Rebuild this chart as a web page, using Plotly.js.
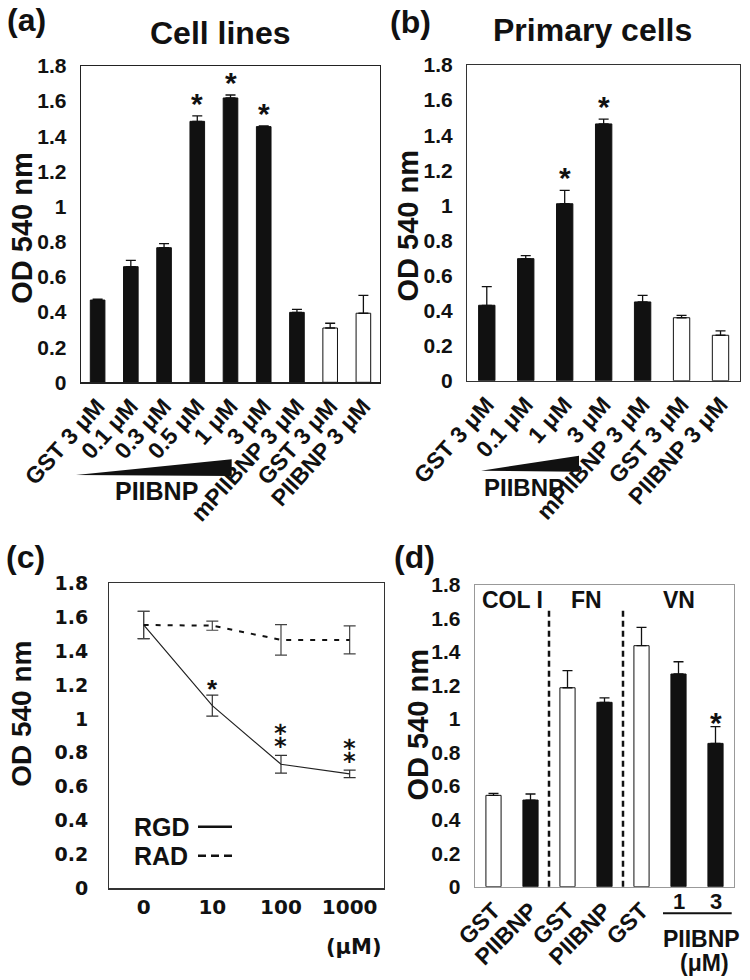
<!DOCTYPE html>
<html>
<head>
<meta charset="utf-8">
<script src="https://cdn.plot.ly/plotly-3.0.1.min.js"></script>
<style>html,body{margin:0;padding:0;background:#fff;}#chart{width:750px;height:980px;}</style>
</head>
<body>
<div id="chart"></div>
<script>
// ---------- DATA ----------
// (a) Cell lines
const aLabels = ["GST 3 μM","0.1 μM","0.3 μM","0.5 μM","1 μM","3 μM","mPIIBNP 3 μM","GST 3 μM","PIIBNP 3 μM"];
const aMean   = [0.468, 0.658, 0.766, 1.485, 1.618, 1.455, 0.398, 0.309, 0.393];
const aErr    = [0.005, 0.036, 0.023, 0.031, 0.017, 0.004, 0.017, 0.027, 0.102];
const aOpen   = [0, 0, 0, 0, 0, 0, 0, 1, 1];
const aStars  = [0, 0, 0, 1, 1, 1, 0, 0, 0];
// (b) Primary cells
const bLabels = ["GST 3 μM","0.1 μM","1 μM","3 μM","mPIIBNP 3 μM","GST 3 μM","PIIBNP 3 μM"];
const bMean   = [0.430, 0.696, 1.009, 1.464, 0.449, 0.359, 0.259];
const bErr    = [0.106, 0.017, 0.076, 0.027, 0.038, 0.013, 0.025];
const bOpen   = [0, 0, 0, 0, 0, 1, 1];
const bStars  = [0, 0, 1, 1, 0, 0, 0];
// (c) RGD / RAD peptides
const cDose   = ["0","10","100","1000"];
const rgdMean = [1.554, 1.078, 0.732, 0.675];
const rgdErr  = [0.081, 0.062, 0.052, 0.022];
const radMean = [1.554, 1.550, 1.466, 1.466];
const radErr  = [0.081, 0.027, 0.090, 0.083];
const cStars  = [0, 1, 2, 2];
// (d) Substrates
const dSubstrate = ["COL I","COL I","FN","FN","VN","VN","VN"];
const dLabels = ["GST","PIIBNP","GST","PIIBNP","GST","1","3"];
const dMean   = [0.545, 0.517, 1.187, 1.100, 1.438, 1.269, 0.855];
const dErr    = [0.012, 0.036, 0.102, 0.026, 0.109, 0.073, 0.100];
const dOpen   = [1, 0, 1, 0, 1, 0, 0];
const dStars  = [0, 0, 0, 0, 0, 0, 1];
const yTicks  = ["0","0.2","0.4","0.6","0.8","1","1.2","1.4","1.6","1.8"];

// ---------- HELPERS ----------
const F  = "Liberation Sans, Arial, sans-serif";
const FD = "DejaVu Sans, Verdana, sans-serif";
const INK = "#111";
const W = 750, H = 980;
const px = x => x / W;
const py = y => 1 - y / H;
const idx = arr => arr.map((_, i) => i);
const yTickVals = yTicks.map(Number);

const annotations = [];
const shapes = [];
function txt(text, x, y, size, extra) {
  annotations.push(Object.assign({
    text, x: px(x), y: py(y), xref: "paper", yref: "paper", showarrow: false,
    xanchor: "center", yanchor: "middle",
    font: {family: F, size, color: INK, weight: "bold"}
  }, extra || {}));
}
// one asterisk, or a vertically stacked pair (U+2051) for two
function stars(counts, means, errs, xref, yref, size, base) {
  counts.forEach((n, i) => {
    if (!n) return;
    annotations.push({
      text: n === 1 ? "*" : "\u2051", x: i, y: means[i] + errs[i], xref, yref, showarrow: false,
      xanchor: "center", yanchor: "bottom", yshift: n === 1 ? base : base + 9,
      font: {family: n === 1 ? F : FD, size: n === 1 ? size : size + 4, color: INK, weight: "bold"}
    });
  });
}
function barTrace(mean, err, open, width, xa, ya) {
  return {
    type: "bar", x: idx(mean), y: mean, width: width, xaxis: xa, yaxis: ya,
    marker: {color: open.map(o => o ? "#ffffff" : INK), line: {color: INK, width: 1}},
    error_y: {type: "data", symmetric: false, array: err, arrayminus: err.map(() => 0),
              color: INK, thickness: 1.3, width: 5},
    hoverinfo: "skip"
  };
}
function yAxis(domain, font, size, lineColor, standoff) {
  return {
    domain, range: [0, 1.8], tickvals: yTickVals, ticktext: yTicks,
    tickfont: {family: font, size, color: INK, weight: "bold"},
    showline: true, mirror: true, linecolor: lineColor, linewidth: 1.3,
    showgrid: false, zeroline: false, ticks: "", ticklabelstandoff: standoff, fixedrange: true
  };
}
function xAxis(domain, labels, angle, size, lineColor) {
  return {
    domain, range: [-0.5, labels.length - 0.5], tickvals: idx(labels), ticktext: labels,
    tickangle: angle, tickfont: {family: F, size, color: INK, weight: "bold"},
    showline: true, mirror: true, linecolor: lineColor, linewidth: 1.3,
    showgrid: false, zeroline: false, ticks: "", fixedrange: true
  };
}

// ---------- TRACES ----------
const traces = [
  barTrace(aMean, aErr, aOpen, 0.44, "x", "y"),
  barTrace(bMean, bErr, bOpen, 0.42, "x2", "y2"),
  {
    type: "scatter", mode: "lines", x: cDose, y: rgdMean, xaxis: "x3", yaxis: "y3",
    line: {color: "#222", width: 1.2},
    error_y: {type: "data", array: rgdErr, color: "#333", thickness: 1.2, width: 6},
    hoverinfo: "skip"
  },
  {
    type: "scatter", mode: "lines", x: cDose, y: radMean, xaxis: "x3", yaxis: "y3",
    line: {color: "#111", width: 2, dash: "5px,7px"},
    error_y: {type: "data", array: radErr, color: "#444", thickness: 1.2, width: 6},
    hoverinfo: "skip"
  },
  barTrace(dMean, dErr, dOpen, 0.41, "x4", "y4")
];

// ---------- AXES ----------
const xa = xAxis([px(81), px(380)], aLabels, -48, 23, "#222");
const ya = yAxis([py(382.3), py(66)], F, 21, "#222", 9);
const xb = xAxis([px(467.3), px(740)], bLabels, -48, 23, "#333");
const yb = yAxis([py(380.7), py(65)], F, 21, "#333", 9);
const xc = {
  domain: [px(109.3), px(384)], type: "category", range: [-0.5, cDose.length - 0.5],
  tickfont: {family: FD, size: 20, color: INK, weight: "bold"},
  showline: true, mirror: true, linecolor: "#333", linewidth: 1.3,
  showgrid: false, zeroline: false, ticks: "", ticklabelstandoff: 0, fixedrange: true
};
const yc = yAxis([py(888.3), py(583.3)], FD, 19, "#333", 16);
const xd = xAxis([px(475), px(734)], dLabels.map(l => /^\d/.test(l) ? "" : l), -45, 23, "#999");
const yd = yAxis([py(886.7), py(585)], F, 21, "#999", 9);
xa.anchor = "y"; xb.anchor = "y2"; xc.anchor = "y3"; xd.anchor = "y4";
ya.anchor = "x"; yb.anchor = "x2"; yc.anchor = "x3"; yd.anchor = "x4";

// ---------- ANNOTATIONS ----------
// panel letters and titles
txt("(a)", 26, 20, 32);
txt("Cell lines", 220, 33, 32);
txt("(b)", 410, 22, 32);
txt("Primary cells", 592, 30, 32);
txt("(c)", 25, 557, 32);
txt("(d)", 414, 557, 32);
// y-axis titles
txt("OD 540 nm", 21.7, 228, 29, {textangle: -90});
txt("OD 540 nm", 407.5, 226, 29, {textangle: -90});
txt("OD 540 nm", 20.8, 714, 28, {textangle: -90});
txt("OD 540 nm", 417.5, 725, 29, {textangle: -90});
// significance stars
stars(aStars, aMean, aErr, "x", "y", 30, -6);
stars(bStars, bMean, bErr, "x2", "y2", 30, -6);
stars(cStars, rgdMean, rgdErr, "x3", "y3", 26, -11);
stars(dStars, dMean, dErr, "x4", "y4", 30, -14);
// PIIBNP dose wedges
txt("PIIBNP", 156, 491.5, 25);
txt("PIIBNP", 524, 487.5, 24);
shapes.push({type: "path", xref: "paper", yref: "paper",
  path: `M ${px(76)},${py(475)} L ${px(231.7)},${py(459.3)} L ${px(231.7)},${py(476)} Z`,
  fillcolor: INK, line: {width: 0}});
shapes.push({type: "path", xref: "paper", yref: "paper",
  path: `M ${px(481)},${py(470.7)} L ${px(579)},${py(455.7)} L ${px(579)},${py(471.7)} Z`,
  fillcolor: INK, line: {width: 0}});
// (c) legend and unit
txt("RGD", 132, 826.7, 25, {xanchor: "left"});
txt("RAD", 132, 855.7, 25, {xanchor: "left"});
shapes.push({type: "line", xref: "paper", yref: "paper", x0: px(198), x1: px(232), y0: py(826.7), y1: py(826.7),
  line: {color: INK, width: 2.5}});
shapes.push({type: "line", xref: "paper", yref: "paper", x0: px(198), x1: px(232), y0: py(855.7), y1: py(855.7),
  line: {color: INK, width: 2.5, dash: "8px,5px"}});
txt("(μM)", 354, 946.7, 21, {font: {family: FD, size: 21, color: INK, weight: "bold"}});
// (d) substrate groups and dividers
const groups = [];
dSubstrate.forEach((s, i) => {
  const g = groups.find(o => o.name === s);
  if (g) g.last = i; else groups.push({name: s, first: i, last: i});
});
groups.forEach((g, gi) => {
  annotations.push({text: g.name, x: (g.first + g.last) / 2, y: py(600), xref: "x4", yref: "paper",
    showarrow: false, xanchor: "center", yanchor: "middle",
    font: {family: F, size: 23, color: INK, weight: "bold"}});
  if (gi > 0) {
    shapes.push({type: "line", xref: "x4", yref: "y4 domain", x0: g.first - 0.5, x1: g.first - 0.5,
      y0: 0, y1: 0.925, line: {color: INK, width: 2.5, dash: "6px,4px"}});
  }
});
dLabels.forEach((l, i) => {
  if (/^\d/.test(l)) {
    annotations.push({text: l, x: i, y: py(901), xref: "x4", yref: "paper", showarrow: false,
      xanchor: "center", yanchor: "middle", font: {family: F, size: 22, color: INK, weight: "bold"}});
  }
});
shapes.push({type: "line", xref: "paper", yref: "paper", x0: px(663), x1: px(731.7), y0: py(913.3), y1: py(913.3),
  line: {color: INK, width: 2}});
txt("PIIBNP", 701.7, 938.7, 23);
txt("(μM)", 704, 963, 23);

// ---------- LAYOUT ----------
const layout = {
  width: W, height: H, margin: {l: 0, r: 0, t: 0, b: 0},
  paper_bgcolor: "#ffffff", plot_bgcolor: "#ffffff", showlegend: false,
  xaxis: xa, yaxis: ya, xaxis2: xb, yaxis2: yb, xaxis3: xc, yaxis3: yc, xaxis4: xd, yaxis4: yd,
  annotations, shapes,
  font: {family: F, color: INK}
};
Plotly.newPlot("chart", traces, layout, {staticPlot: true, displayModeBar: false});
</script>
</body>
</html>
